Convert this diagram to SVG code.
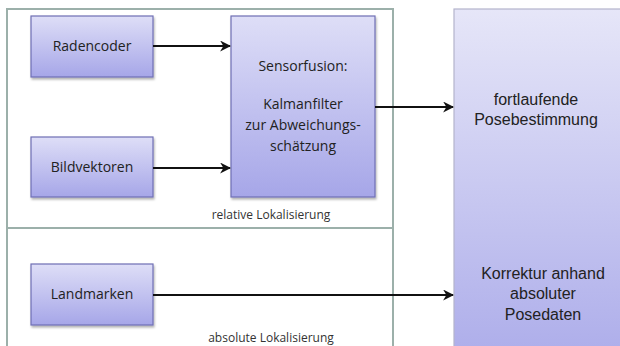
<svg xmlns="http://www.w3.org/2000/svg" width="620" height="346" viewBox="0 0 620 346">
<defs>
<linearGradient id="gBox" x1="0" y1="0" x2="0" y2="1">
<stop offset="0" stop-color="#dedef7"/>
<stop offset="1" stop-color="#a6a6e8"/>
</linearGradient>
<linearGradient id="gBig" x1="0" y1="0" x2="0" y2="1">
<stop offset="0" stop-color="#e6e6f8"/>
<stop offset="1" stop-color="#adadea"/>
</linearGradient>
<filter id="sh" x="-10%" y="-10%" width="130%" height="130%">
<feDropShadow dx="1" dy="2" stdDeviation="1.2" flood-color="#000" flood-opacity="0.3"/>
</filter>
<marker id="arr" viewBox="0 0 10 10" refX="9" refY="5" markerWidth="5.5" markerHeight="5.5" orient="auto" markerUnits="strokeWidth">
<path d="M0,0 L10,5 L0,10 L3,5 z" fill="#111"/>
</marker>
<style>
.box{fill:url(#gBox);stroke:#6f6fb4;stroke-width:1.2;filter:url(#sh)}
.big{fill:url(#gBig);stroke:#b4b4cc;stroke-width:1.2}
.frame{fill:none;stroke:#9cb0aa;stroke-width:2}
.t{font-family:"Open Sans","Liberation Sans",sans-serif;font-size:14px;fill:#222;text-anchor:middle}
.ta{font-family:"Liberation Sans",Arial,sans-serif;font-size:16px;fill:#222;text-anchor:middle}
.lbl{font-family:"Open Sans","Liberation Sans",sans-serif;font-size:12px;fill:#333;text-anchor:middle}
.c{stroke:#111;stroke-width:2;fill:none;marker-end:url(#arr)}
</style>
</defs>
<rect width="620" height="346" fill="#fff"/>
<g id="frames">
<rect class="frame" x="7" y="9" width="386" height="219"/>
<path class="frame" d="M7,228 V350 M393,228 V350"/>
<text class="lbl" x="271" y="219">relative Lokalisierung</text>
<text class="lbl" x="271" y="342">absolute Lokalisierung</text>
</g>
<g id="pose">
<rect class="big" x="454" y="9" width="180" height="350"/>
<text class="ta" x="536" y="105">fortlaufende</text>
<text class="ta" x="536" y="125">Posebestimmung</text>
<text class="ta" x="543" y="279">Korrektur anhand</text>
<text class="ta" x="543" y="299">absoluter</text>
<text class="ta" x="543" y="320">Posedaten</text>
</g>
<g id="radencoder">
<rect class="box" x="31" y="16" width="122" height="61"/>
<text class="t" x="92" y="51">Radencoder</text>
</g>
<g id="bildvektoren">
<rect class="box" x="31" y="137" width="122" height="60"/>
<text class="t" x="92" y="172">Bildvektoren</text>
</g>
<g id="landmarken">
<rect class="box" x="31" y="264" width="122" height="61"/>
<text class="t" x="92" y="299">Landmarken</text>
</g>
<g id="sensorfusion">
<rect class="box" x="231" y="16" width="144" height="181"/>
<text class="t" x="303" y="71">Sensorfusion:</text>
<text class="t" x="303" y="109">Kalmanfilter</text>
<text class="t" x="303" y="130">zur Abweichungs-</text>
<text class="t" x="303" y="151">schätzung</text>
</g>
<g id="connectors">
<path class="c" d="M153,46 H230"/>
<path class="c" d="M153,168 H230"/>
<path class="c" d="M375,107 H453"/>
<path class="c" d="M153,295 H453"/>
</g>
</svg>
